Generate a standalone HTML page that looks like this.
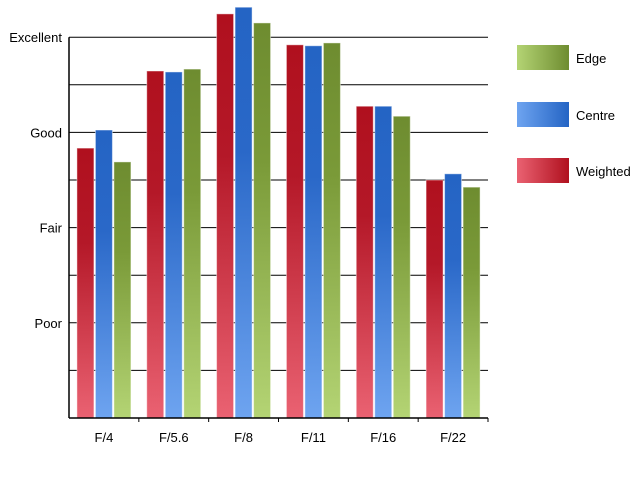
<!DOCTYPE html>
<html><head><meta charset="utf-8"><style>body{margin:0;background:#fff}svg{display:block}text{font-family:"Liberation Sans",sans-serif;font-size:13px;fill:#000}</style></head>
<body>
<svg id="c" width="640" height="480">
<defs>
<linearGradient id="gW" x1="0" y1="0" x2="0" y2="1"><stop offset="0" stop-color="#b0101e"/><stop offset="0.35" stop-color="#b41828"/><stop offset="1" stop-color="#ea6272"/></linearGradient>
<linearGradient id="gC" x1="0" y1="0" x2="0" y2="1"><stop offset="0" stop-color="#2464c4"/><stop offset="0.35" stop-color="#2a68c8"/><stop offset="1" stop-color="#6ea4f0"/></linearGradient>
<linearGradient id="gE" x1="0" y1="0" x2="0" y2="1"><stop offset="0" stop-color="#6e8c30"/><stop offset="0.35" stop-color="#7a9a38"/><stop offset="1" stop-color="#b4d474"/></linearGradient>
<linearGradient id="lW" x1="0" y1="0" x2="1" y2="0"><stop offset="0" stop-color="#ea6272"/><stop offset="1" stop-color="#b0101e"/></linearGradient>
<linearGradient id="lC" x1="0" y1="0" x2="1" y2="0"><stop offset="0" stop-color="#6ea4f0"/><stop offset="1" stop-color="#2464c4"/></linearGradient>
<linearGradient id="lE" x1="0" y1="0" x2="1" y2="0"><stop offset="0" stop-color="#b4d474"/><stop offset="1" stop-color="#6e8c30"/></linearGradient>
</defs>
<g id="grid"></g><g id="bars"></g><g id="axes"></g><g id="legend"></g>
</svg>
<script>
const categories=["F/4","F/5.6","F/8","F/11","F/16","F/22"];
const weighted=[5.67,7.29,8.49,7.84,6.55,5.0];
const centre=[6.05,7.27,8.63,7.82,6.55,5.13];
const edge=[5.38,7.33,8.3,7.88,6.34,4.85];
const yTickLabels=["","Poor","Fair","Good","Excellent"];
const NS="http://www.w3.org/2000/svg";
const X0=69,X1=488,Y0=418,STEP=47.6;
const y=v=>Y0-v*STEP;
const gw=(X1-X0)/categories.length;
function el(t,a,p){const e=document.createElementNS(NS,t);for(const k in a)e.setAttribute(k,a[k]);p.appendChild(e);return e;}
const grid=document.getElementById('grid'),bars=document.getElementById('bars'),axes=document.getElementById('axes'),lg=document.getElementById('legend');
for(let i=1;i<=8;i++){const l=el('line',{x1:X0,x2:X1,y1:y(i),y2:y(i),stroke:'#000','stroke-width':1},grid);

}
yTickLabels.forEach((s,i)=>{if(!s)return;const t=el('text',{x:62,y:y(i*2)+5,'text-anchor':'end'},axes);t.textContent=s;

});
const series=[[weighted,'gW','weighted'],[centre,'gC','centre'],[edge,'gE','edge']];
categories.forEach((c,i)=>{const cx=X0+gw*(i+0.5);
series.forEach((s,j)=>{const bx=cx-27+j*18.5,top=y(s[0][i]);
const r=el('rect',{x:bx,y:top,width:17,height:Y0-top,fill:'url(#'+s[1]+')',stroke:'rgba(255,255,255,0.45)','stroke-width':1},bars);

});
const t=el('text',{x:cx,y:442,'text-anchor':'middle'},axes);t.textContent=c;


const tk=el('line',{x1:X0+gw*(i+1),x2:X0+gw*(i+1),y1:Y0,y2:Y0+4,stroke:'#000'},axes);

});
const ax=el('line',{x1:X0,x2:X0,y1:y(8),y2:Y0,stroke:'#000','stroke-width':1.5},axes);


const bx=el('line',{x1:X0,x2:X1,y1:Y0,y2:Y0,stroke:'#000','stroke-width':1.5},axes);


[["Edge","lE",45],["Centre","lC",102],["Weighted","lW",158]].forEach(L=>{
const r=el('rect',{x:517,y:L[2],width:52,height:25,fill:'url(#'+L[1]+')'},lg);


const t=el('text',{x:576,y:L[2]+18},lg);t.textContent=L[0];

});
</script>
</body></html>
